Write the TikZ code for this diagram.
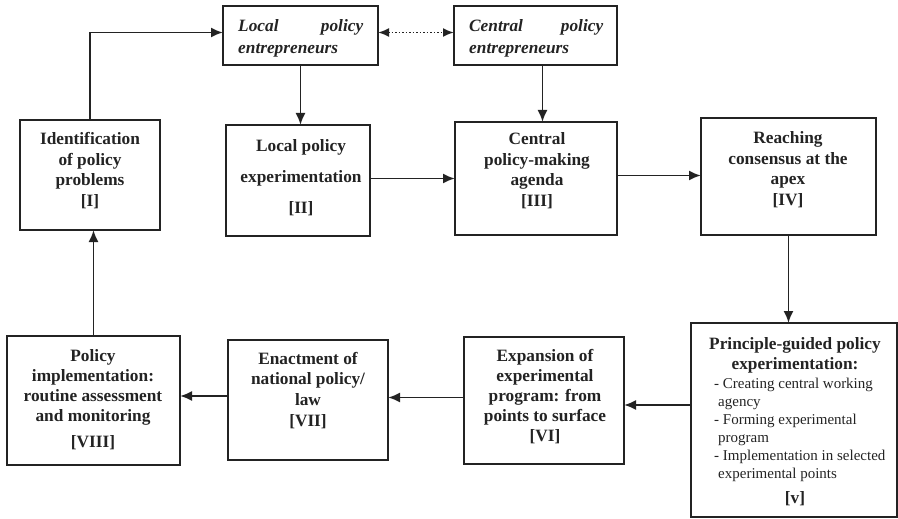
\documentclass[tikz,border=0pt]{standalone}
\usepackage{fontspec}
\setmainfont{Liberation Serif}
\usetikzlibrary{arrows.meta}
\definecolor{ink}{RGB}{35,35,35}
\tikzset{
  box/.style={draw=ink, line width=1.7pt, inner sep=0pt, outer sep=0pt},
  arr/.style={draw=ink, line width=1.9pt, -{Latex[length=12pt,width=10pt]}},
  dotarr/.style={draw=ink, line width=1.9pt, dash pattern=on 1.9pt off 1.6pt, {Latex[length=11pt,width=9pt]}-{Latex[length=11pt,width=9pt]}},
  txt/.style={anchor=north, inner sep=0pt, align=center, text=ink, font=\fontsize{17.3}{20.5}\selectfont\bfseries},
  ent/.style={anchor=north west, inner sep=0pt, align=left, text=ink, font=\fontsize{17.3}{22}\selectfont\bfseries\itshape},
}
\begin{document}
\begin{tikzpicture}[x=1pt,y=-1pt]
\useasboundingbox (0,0) rectangle (898,519);
% boxes
\node[box, minimum width=155pt, minimum height=59pt] (LE) at (300.5,35.5) {};
\node[box, minimum width=163pt, minimum height=59pt] (CE) at (535.5,35.5) {};
\node[box, minimum width=140pt, minimum height=110pt] (I) at (90,175) {};
\node[box, minimum width=144pt, minimum height=111pt] (II) at (298,180.5) {};
\node[box, minimum width=162pt, minimum height=113pt] (III) at (536,178.5) {};
\node[box, minimum width=175pt, minimum height=117pt] (IV) at (788.5,176.5) {};
\node[box, minimum width=206pt, minimum height=194pt] (V) at (794,420) {};
\node[box, minimum width=160pt, minimum height=127pt] (VI) at (544,400.5) {};
\node[box, minimum width=160pt, minimum height=120pt] (VII) at (308,400) {};
\node[box, minimum width=173pt, minimum height=129pt] (VIII) at (93.5,400.5) {};
% texts
\node[ent, text width=125pt] (tLE) at (238,15.6) {\strut Local\hfill policy\\entrepreneurs};
\node[ent, text width=134pt] (tCE) at (469,15.6) {\strut Central\hfill policy\\entrepreneurs};
\node[txt] (tI) at (90,130) {\strut Identification\\of policy\\problems\\{[I]}};
\node[txt, font=\fontsize{17.3}{31}\selectfont\bfseries] (tII) at (301,129.5) {\strut Local policy\\experimentation\\{[II]}};
\node[txt] (tIII) at (537,130) {\strut Central\\policy-making\\agenda\\{[III]}};
\node[txt] (tIV) at (788,129) {\strut Reaching\\consensus at the\\apex\\{[IV]}};
\node[txt, font=\fontsize{17.3}{20}\selectfont\bfseries] (tV) at (795,335) {\strut Principle-guided policy\\experimentation:};
\node[anchor=north west, inner sep=0pt, align=left, text=ink, font=\fontsize{15}{18}\selectfont] (tVl) at (714,375.5)
  {\strut- Creating central working\\\hspace*{4pt}agency\\- Forming experimental\\\hspace*{4pt}program\\- Implementation in selected\\\hspace*{4pt}experimental points};
\node[anchor=base, inner sep=0pt, text=ink, font=\fontsize{17.3}{20}\selectfont\bfseries] (tV2) at (795,503) {[v]};
\node[txt, font=\fontsize{17.3}{20}\selectfont\bfseries] (tVI) at (545,347) {\strut Expansion of\\experimental\\program: from\\points to surface\\{[VI]}};
\node[txt, font=\fontsize{17.3}{20.7}\selectfont\bfseries] (tVII) at (308,349.5) {\strut Enactment of\\national policy/\\law\\{[VII]}};
\node[txt, font=\fontsize{17.3}{20}\selectfont\bfseries] (tVIII) at (93,347) {\strut Policy\\implementation:\\routine assessment\\and monitoring\\[6pt]{[VIII]}};
% connectors
\draw[arr] (I.north) |- ([yshift=3pt]LE.west);
\draw[dotarr] ([yshift=3pt]LE.east) -- ([yshift=3pt]CE.west);
\draw[arr] (LE.south) -- (LE.south |- II.north);
\draw[arr] ([xshift=7pt]CE.south) -- ([xshift=7pt]CE.south |- III.north);
\draw[arr] ([yshift=2pt]II.east) -- ([yshift=2pt]III.west |- II.east);
\draw[arr] ([yshift=3pt]III.east) -- ([yshift=3pt]IV.west |- III.east);
\draw[arr] (IV.south) -- (IV.south |- V.north);
\draw[arr] ([yshift=15pt]V.west) -- ([yshift=15pt]VI.east |- V.west);
\draw[arr] ([yshift=3pt]VI.west) -- ([yshift=3pt]VII.east |- VI.west);
\draw[arr] ([yshift=4pt]VII.west) -- ([yshift=4pt]VIII.east |- VII.west);
\draw[arr] (VIII.north) -- (VIII.north |- I.south);
\end{tikzpicture}
\end{document}
